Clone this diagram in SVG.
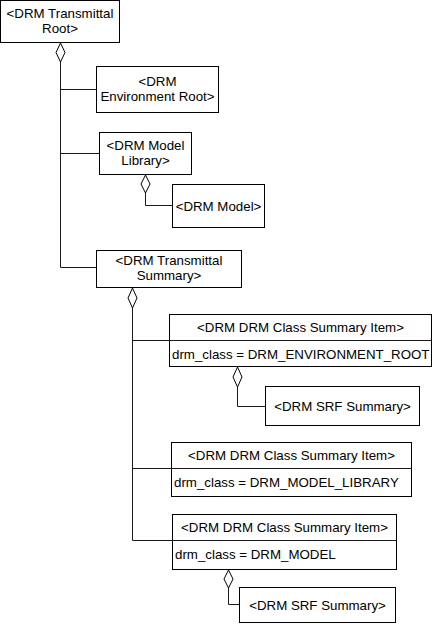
<svg xmlns="http://www.w3.org/2000/svg" width="439" height="624" viewBox="0 0 439 624">
<style>
.box{fill:#fff;stroke:#000;stroke-width:1}
.ln{fill:none;stroke:#1a1a1a;stroke-width:1}
.dm{fill:#fff;stroke:#000;stroke-width:1}
text{font-family:"Liberation Sans",Arial,sans-serif;font-size:13.3px;fill:#000}
.c{text-anchor:middle}
</style>
<rect width="439" height="624" fill="#fff"/>
<g id="connectors">
<path class="ln" d="M60.5,62 V267.5 H96"/>
<path class="ln" d="M60.5,89.5 H96"/>
<path class="ln" d="M60.5,153.5 H99"/>
<path class="ln" d="M145.5,193 V205.5 H172"/>
<path class="ln" d="M132.5,308 V540.5 H172"/>
<path class="ln" d="M132.5,340.5 H169"/>
<path class="ln" d="M132.5,468.5 H171"/>
<path class="ln" d="M237.5,387 V406.5 H265"/>
<path class="ln" d="M228.5,588 V604.5 H239"/>
<polygon class="dm" points="60.5,43 65,52.5 60.5,62 56,52.5"/>
<polygon class="dm" points="145.5,175 150,184 145.5,193 141,184"/>
<polygon class="dm" points="132.5,288 137,298 132.5,308 128,298"/>
<polygon class="dm" points="237.5,367 242,377 237.5,387 233,377"/>
<polygon class="dm" points="228.5,570 233,579 228.5,588 224,579"/>
</g>
<g id="root">
<rect class="box" x="0.5" y="0.5" width="119" height="42"/>
<text class="c" x="60" y="18">&lt;DRM Transmittal</text>
<text class="c" x="60" y="33">Root&gt;</text>
</g>
<g id="envroot">
<rect class="box" x="96.5" y="66.5" width="122" height="46"/>
<text class="c" x="157.5" y="86">&lt;DRM</text>
<text class="c" x="157.5" y="101">Environment Root&gt;</text>
</g>
<g id="modellib">
<rect class="box" x="99.5" y="132.5" width="92" height="42"/>
<text class="c" x="145.5" y="149.5">&lt;DRM Model</text>
<text class="c" x="145.5" y="164.5">Library&gt;</text>
</g>
<g id="model">
<rect class="box" x="172.5" y="184.5" width="92" height="43"/>
<text class="c" x="218.5" y="210.5">&lt;DRM Model&gt;</text>
</g>
<g id="summary">
<rect class="box" x="96.5" y="250.5" width="145" height="37"/>
<text class="c" x="169" y="265">&lt;DRM Transmittal</text>
<text class="c" x="169" y="280">Summary&gt;</text>
</g>
<g id="item1">
<rect class="box" x="169.5" y="314.5" width="262" height="52"/>
<line class="ln" x1="169.5" y1="340.5" x2="431.5" y2="340.5"/>
<text class="c" x="300.5" y="332">&lt;DRM DRM Class Summary Item&gt;</text>
<text x="172" y="358.5">drm_class = DRM_ENVIRONMENT_ROOT</text>
</g>
<g id="srf1">
<rect class="box" x="265.5" y="386.5" width="154" height="39"/>
<text class="c" x="342.5" y="410.5">&lt;DRM SRF Summary&gt;</text>
</g>
<g id="item2">
<rect class="box" x="171.5" y="442.5" width="240" height="54"/>
<line class="ln" x1="171.5" y1="468.5" x2="411.5" y2="468.5"/>
<text class="c" x="291.5" y="460">&lt;DRM DRM Class Summary Item&gt;</text>
<text x="174" y="487">drm_class = DRM_MODEL_LIBRARY</text>
</g>
<g id="item3">
<rect class="box" x="172.5" y="514.5" width="224" height="55"/>
<line class="ln" x1="172.5" y1="540.5" x2="396.5" y2="540.5"/>
<text class="c" x="284.5" y="532">&lt;DRM DRM Class Summary Item&gt;</text>
<text x="175" y="559">drm_class = DRM_MODEL</text>
</g>
<g id="srf2">
<rect class="box" x="239.5" y="587.5" width="156" height="35"/>
<text class="c" x="317.5" y="609.5">&lt;DRM SRF Summary&gt;</text>
</g>
</svg>
